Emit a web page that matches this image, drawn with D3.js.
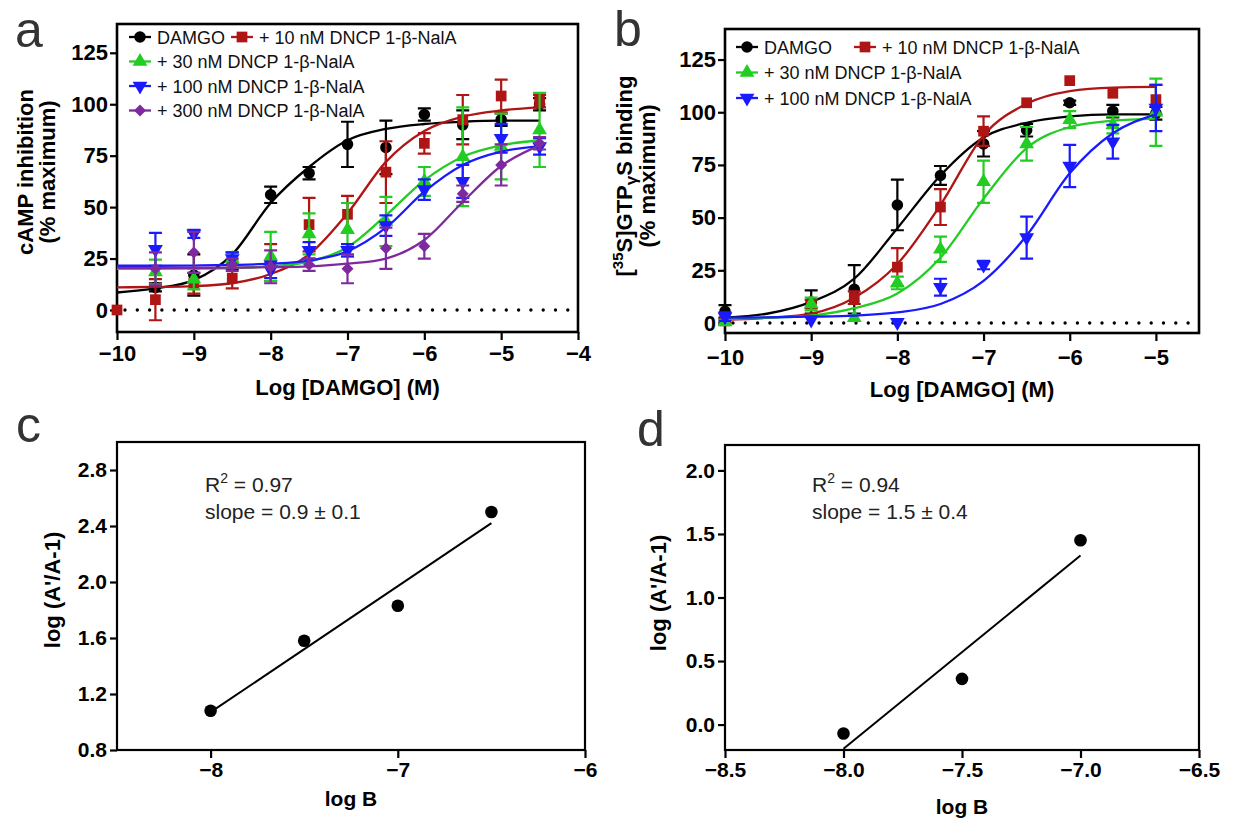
<!DOCTYPE html>
<html>
<head>
<meta charset="utf-8">
<script src="https://cdn.jsdelivr.net/npm/d3@7"></script>
<style>
  body { margin: 0; background: #fff; }
  svg text { font-family: Arial, "Liberation Sans", Helvetica, sans-serif; }
</style>
</head>
<body>
<svg id="fig" width="1234" height="827"></svg>
<script>
// ---------- panel a : cAMP inhibition ----------
const doseA = [-10, -9.5, -9, -8.5, -8, -7.5, -7, -6.5, -6, -5.5, -5, -4.5];
const damgoA      = [null, 11, 17, 24, 56, 66.5, 80.5, 79, 95, 90, 92.5, 100];
const damgoAErr   = [null, 2, 10, 4, 4, 3, 11, 13, 3, 7, 3, 3];
const nalA10A     = [0, 5, 13, 15.5, 23, 41.5, 46.5, 67, 81, 92.5, 104, 101.5];
const nalA10AErr  = [0, 10, 5, 5, 9, 13, 9, 15, 5, 12, 8, 3];
const nalA30A     = [null, 18.5, 15, 25, 26, 37, 39, 43, 62.5, 74.5, 79.5, 87.5];
const nalA30AErr  = [null, 6, 5, 3, 12, 10, 13, 12, 7, 24, 16, 18];
const nalA100A    = [null, 29.5, 37, 25, 19.5, 29, 29, 41, 58.5, 62.5, 83.5, 79.5];
const nalA100AErr = [null, 8, 2, 3, 4, 4, 3, 5, 5, 8, 7, 4];
const nalA300A    = [null, 20, 28, 22, 21, 22, 20, 30, 31, 56.5, 70.5, 81];
const nalA300AErr = [null, 8, 10, 3, 8, 3, 7, 10, 6, 4, 10, 3];
// fitted curves at the same doses
const damgoAFit    = [8.5, 10.5, 14.5, 27, 52, 69.5, 82.5, 88, 90.4, 91.5, 92, 92];
const nalA10AFit   = [11, 11.2, 11.6, 13, 17.5, 27, 47, 72, 87, 94, 97, 98.5];
const nalA30AFit   = [20, 20, 20.1, 20.4, 21.2, 23.5, 30.5, 46, 63, 74.5, 80, 82.5];
const nalA100AFit  = [21.5, 21.5, 21.6, 21.9, 22.5, 24, 28.5, 40, 57.5, 70.5, 77, 79.5];
const nalA300AFit  = [20.5, 20.5, 20.5, 20.6, 20.8, 21.2, 22.5, 25, 34, 52.5, 70, 80];

// ---------- panel b : [35S]GTPgS binding ----------
const doseB = [-10, -9.5, -9, -8.5, -8, -7.5, -7, -6.5, -6, -5.5, -5];
const damgoB      = [5.5, null, 10, 16, 56, 70, 85, 91.5, 104.5, 100.5, 99.5];
const damgoBErr   = [3, null, 5.5, 11.5, 12, 4.5, 6, 3, 1, 3, 3];
const nalA10B     = [1, null, 9, 12, 26.5, 55, 91, 104.5, 115, 109, 106];
const nalA10BErr  = [1, null, 2, 3, 9, 8.5, 7, 0, 0, 0, 7];
const nalA30B     = [0.5, null, 9, 2.5, 19, 35, 67, 85, 96.5, 94, 100];
const nalA30BErr  = [1, null, 3, 0, 3, 6, 10, 8, 4, 4, 16];
const nalA100B    = [3, null, 1.5, null, 0.3, 17, 27.5, 40.5, 74.5, 86, 102];
const nalA100BErr = [2, null, 0, null, 0, 4, 2, 10, 10, 8, 11];
const damgoBFit    = [2.5, 4.5, 10, 21, 45, 70, 88, 95, 98, 99, 99];
const nalA10BFit   = [1.5, 2.5, 4.5, 12, 28, 56, 89, 104, 110, 111.7, 112];
const nalA30BFit   = [2, 2.5, 3.5, 7, 14, 31, 59, 83, 93, 96, 97];
const nalA100BFit  = [2.5, 2.7, 3, 3.5, 5, 9, 20, 41.5, 71, 90, 99];

// ---------- panels c, d : Schild plots ----------
const logBC = [-8, -7.5, -7, -6.5];
const schildC = [1.08, 1.58, 1.83, 2.50];
const fitCX = [-8, -6.5];
const fitCY = [1.07, 2.42];
const logBD = [-8, -7.5, -7];
const schildD = [-0.07, 0.36, 1.45];
const fitDX = [-8, -7];
const fitDY = [-0.19, 1.33];

const seriesNames = ["DAMGO", "+ 10 nM DNCP 1-\u03b2-NalA", "+ 30 nM DNCP 1-\u03b2-NalA",
                     "+ 100 nM DNCP 1-\u03b2-NalA", "+ 300 nM DNCP 1-\u03b2-NalA"];
const ticksAB = [0, 25, 50, 75, 100, 125];

const colors = ["#000000", "#b01515", "#22cc22", "#1a1aff", "#7e2a9e"];
const shapes = [d3.symbolCircle, d3.symbolSquare, d3.symbolTriangle, d3.symbolTriangle, d3.symbolSquare];
const shapeRot = [0, 0, 0, 180, 45];
const shapeSize = [105, 115, 95, 95, 72];

const svg = d3.select("#fig");

function styleAxis(ax, fontSize) {
  ax.select(".domain").remove();
  ax.selectAll(".tick line").attr("stroke", "#000").attr("stroke-width", 2.2);
  ax.selectAll(".tick text").attr("fill", "#000").attr("font-size", fontSize)
    .attr("font-weight", "bold").attr("font-family", "Arial, 'Liberation Sans', sans-serif");
}

function marker(g, i, cx, cy) {
  g.append("path")
    .attr("d", d3.symbol().type(shapes[i]).size(shapeSize[i])())
    .attr("transform", `translate(${cx},${cy}) rotate(${shapeRot[i]})`)
    .attr("fill", colors[i]);
}

function doseResponse(p) {
  const x = d3.scaleLinear().domain(p.xDomain).range([p.box[0], p.box[2]]);
  const y = d3.scaleLinear().domain(p.yDomain).range([p.box[3], p.box[1]]);
  const g = svg.append("g");

  // dotted baseline at 0
  g.append("line")
    .attr("x1", x(p.xDomain[0]) + 8).attr("x2", x(p.xDomain[1]) - 4)
    .attr("y1", y(0)).attr("y2", y(0))
    .attr("stroke", "#000").attr("stroke-width", 3.4)
    .attr("stroke-linecap", "round").attr("stroke-dasharray", "0,12.3");

  // frame
  g.append("rect")
    .attr("x", p.box[0]).attr("y", p.box[1])
    .attr("width", p.box[2] - p.box[0]).attr("height", p.box[3] - p.box[1])
    .attr("fill", "none").attr("stroke", "#000").attr("stroke-width", 2.6);

  const ay = g.append("g").attr("transform", `translate(${p.box[0]},0)`)
    .call(d3.axisLeft(y).tickValues(ticksAB).tickSize(7).tickPadding(2));
  styleAxis(ay, 22);
  const ax = g.append("g").attr("transform", `translate(0,${p.box[3]})`)
    .call(d3.axisBottom(x).tickValues(p.xTicks).tickSize(8).tickPadding(p.xPad).tickFormat(d3.format("d")));
  styleAxis(ax, 22);

  const line = d3.line().x(d => x(d[0])).y(d => y(d[1])).curve(d3.curveMonotoneX);

  p.series.forEach(s => {
    const c = colors[s.i];
    const pts = p.dose.map((d, k) => [d, s.v[k], s.e[k]]).filter(d => d[1] !== null);
    g.append("path")
      .attr("d", line(p.dose.map((d, k) => [d, s.fit[k]])))
      .attr("fill", "none").attr("stroke", c).attr("stroke-width", 2.3);
    pts.forEach(d => {
      if (d[2] > 0) {
        const xx = x(d[0]);
        g.append("path")
          .attr("d", `M${xx},${y(d[1] - d[2])}V${y(d[1] + d[2])}` +
                     `M${xx - 6.5},${y(d[1] + d[2])}H${xx + 6.5}` +
                     `M${xx - 6.5},${y(d[1] - d[2])}H${xx + 6.5}`)
          .attr("fill", "none").attr("stroke", c).attr("stroke-width", 2.2);
      }
      marker(g, s.i, x(d[0]), y(d[1]));
    });
  });

  // legend
  p.legend.forEach(l => {
    g.append("line").attr("x1", l.x - 11).attr("x2", l.x + 11).attr("y1", l.y).attr("y2", l.y)
      .attr("stroke", colors[l.i]).attr("stroke-width", 2.3);
    marker(g, l.i, l.x, l.y);
    g.append("text").attr("x", l.x + 17).attr("y", l.y + 6.5)
      .attr("font-size", 18).attr("fill", "#111").text(seriesNames[l.i]);
  });

  // axis titles
  g.append("text").attr("x", (p.box[0] + p.box[2]) / 2).attr("y", p.xTitleY)
    .attr("text-anchor", "middle").attr("font-size", 22).attr("font-weight", "bold")
    .text("Log [DAMGO] (M)");
  p.yTitle(g);

  g.append("text").attr("x", p.letter[0]).attr("y", p.letter[1])
    .attr("font-size", 50).attr("fill", "#333").text(p.letter[2]);
}

function schild(p) {
  const x = d3.scaleLinear().domain(p.xDomain).range([p.box[0], p.box[2]]);
  const y = d3.scaleLinear().domain(p.yDomain).range([p.box[3], p.box[1]]);
  const g = svg.append("g");

  g.append("rect")
    .attr("x", p.box[0]).attr("y", p.box[1])
    .attr("width", p.box[2] - p.box[0]).attr("height", p.box[3] - p.box[1])
    .attr("fill", "none").attr("stroke", "#000").attr("stroke-width", 2.2);

  const ay = g.append("g").attr("transform", `translate(${p.box[0]},0)`)
    .call(d3.axisLeft(y).tickValues(p.yTicks).tickSize(7).tickPadding(3).tickFormat(d3.format(".1f")));
  styleAxis(ay, 21);
  const ax = g.append("g").attr("transform", `translate(0,${p.box[3]})`)
    .call(d3.axisBottom(x).tickValues(p.xTicks).tickSize(8).tickPadding(4).tickFormat(p.xFmt));
  styleAxis(ax, 21);

  g.append("path")
    .attr("d", d3.line().x(d => x(d[0])).y(d => y(d[1]))(p.fitX.map((v, k) => [v, p.fitY[k]])))
    .attr("stroke", "#000").attr("stroke-width", 2).attr("fill", "none");

  g.selectAll("circle.pt").data(p.xs.map((v, k) => [v, p.ys[k]])).join("circle")
    .attr("class", "pt").attr("cx", d => x(d[0])).attr("cy", d => y(d[1])).attr("r", 6.3)
    .attr("fill", "#000");

  const r2 = g.append("text").attr("x", p.note[0]).attr("y", p.note[1])
    .attr("font-size", 21).attr("fill", "#222");
  r2.append("tspan").text("R");
  r2.append("tspan").attr("dy", -9).attr("font-size", 14).text("2");
  r2.append("tspan").attr("dy", 9).text(" = " + p.r2);
  g.append("text").attr("x", p.note[0]).attr("y", p.note[1] + 27)
    .attr("font-size", 21).attr("fill", "#222").text("slope = " + p.slope);

  g.append("text").attr("x", (p.box[0] + p.box[2]) / 2).attr("y", p.xTitleY)
    .attr("text-anchor", "middle").attr("font-size", 21).attr("font-weight", "bold").text("log B");
  g.append("text").attr("transform", `translate(${p.yTitleX},${p.yTitleMid}) rotate(-90)`)
    .attr("text-anchor", "middle").attr("font-size", 22).attr("font-weight", "bold")
    .text("log (A'/A-1)");

  g.append("text").attr("x", p.letter[0]).attr("y", p.letter[1])
    .attr("font-size", 50).attr("fill", "#333").text(p.letter[2]);
}

doseResponse({
  box: [117, 24, 578, 332],
  xDomain: [-10, -4], yDomain: [-10.7, 139],
  xTicks: [-10, -9, -8, -7, -6, -5, -4], xPad: 5,
  dose: doseA,
  series: [
    { i: 0, v: damgoA, e: damgoAErr, fit: damgoAFit },
    { i: 1, v: nalA10A, e: nalA10AErr, fit: nalA10AFit },
    { i: 2, v: nalA30A, e: nalA30AErr, fit: nalA30AFit },
    { i: 3, v: nalA100A, e: nalA100AErr, fit: nalA100AFit },
    { i: 4, v: nalA300A, e: nalA300AErr, fit: nalA300AFit }
  ],
  legend: [
    { i: 0, x: 140, y: 37 }, { i: 1, x: 242, y: 37 },
    { i: 2, x: 140, y: 61.5 }, { i: 3, x: 140, y: 86 }, { i: 4, x: 140, y: 110.5 }
  ],
  xTitleY: 395,
  yTitle: g => {
    g.append("text").attr("transform", "translate(33,172) rotate(-90)")
      .attr("text-anchor", "middle").attr("font-size", 22).attr("font-weight", "bold")
      .text("cAMP inhibition");
    g.append("text").attr("transform", "translate(55,172) rotate(-90)")
      .attr("text-anchor", "middle").attr("font-size", 22).attr("font-weight", "bold")
      .text("(% maximum)");
  },
  letter: [15, 47, "a"]
});

doseResponse({
  box: [725, 29, 1199, 333],
  xDomain: [-10, -4.5], yDomain: [-4.75, 139.5],
  xTicks: [-10, -9, -8, -7, -6, -5], xPad: 8,
  dose: doseB,
  series: [
    { i: 0, v: damgoB, e: damgoBErr, fit: damgoBFit },
    { i: 1, v: nalA10B, e: nalA10BErr, fit: nalA10BFit },
    { i: 2, v: nalA30B, e: nalA30BErr, fit: nalA30BFit },
    { i: 3, v: nalA100B, e: nalA100BErr, fit: nalA100BFit }
  ],
  legend: [
    { i: 0, x: 747, y: 47 }, { i: 1, x: 865, y: 47 },
    { i: 2, x: 747, y: 72.5 }, { i: 3, x: 747, y: 98 }
  ],
  xTitleY: 397,
  yTitle: g => {
    const t = g.append("text").attr("transform", "translate(632,176) rotate(-90)")
      .attr("text-anchor", "middle").attr("font-size", 22).attr("font-weight", "bold");
    t.append("tspan").text("[");
    t.append("tspan").attr("dy", -9).attr("font-size", 15).text("35");
    t.append("tspan").attr("dy", 9).text("S]GTP");
    t.append("tspan").attr("dy", 5).attr("font-size", 17).text("\u03b3");
    t.append("tspan").attr("dy", -5).text("S binding");
    g.append("text").attr("transform", "translate(655,176) rotate(-90)")
      .attr("text-anchor", "middle").attr("font-size", 22).attr("font-weight", "bold")
      .text("(% maximum)");
  },
  letter: [614, 46, "b"]
});

schild({
  box: [117, 442, 585, 750],
  xDomain: [-8.5, -6], yDomain: [0.8, 3.0],
  xTicks: [-8, -7, -6], xFmt: d3.format("d"),
  yTicks: [0.8, 1.2, 1.6, 2.0, 2.4, 2.8],
  xs: logBC, ys: schildC, fitX: fitCX, fitY: fitCY,
  r2: "0.97", slope: "0.9 \u00b1 0.1",
  note: [205, 492],
  xTitleY: 806, yTitleX: 60, yTitleMid: 590,
  letter: [16, 442, "c"]
});

schild({
  box: [725, 445, 1199, 750],
  xDomain: [-8.5, -6.5], yDomain: [-0.2, 2.2],
  xTicks: [-8.5, -8, -7.5, -7, -6.5], xFmt: d3.format(".1f"),
  yTicks: [0, 0.5, 1.0, 1.5, 2.0],
  xs: logBD, ys: schildD, fitX: fitDX, fitY: fitDY,
  r2: "0.94", slope: "1.5 \u00b1 0.4",
  note: [812, 492],
  xTitleY: 814, yTitleX: 666, yTitleMid: 593,
  letter: [637, 446, "d"]
});
</script>
</body>
</html>
